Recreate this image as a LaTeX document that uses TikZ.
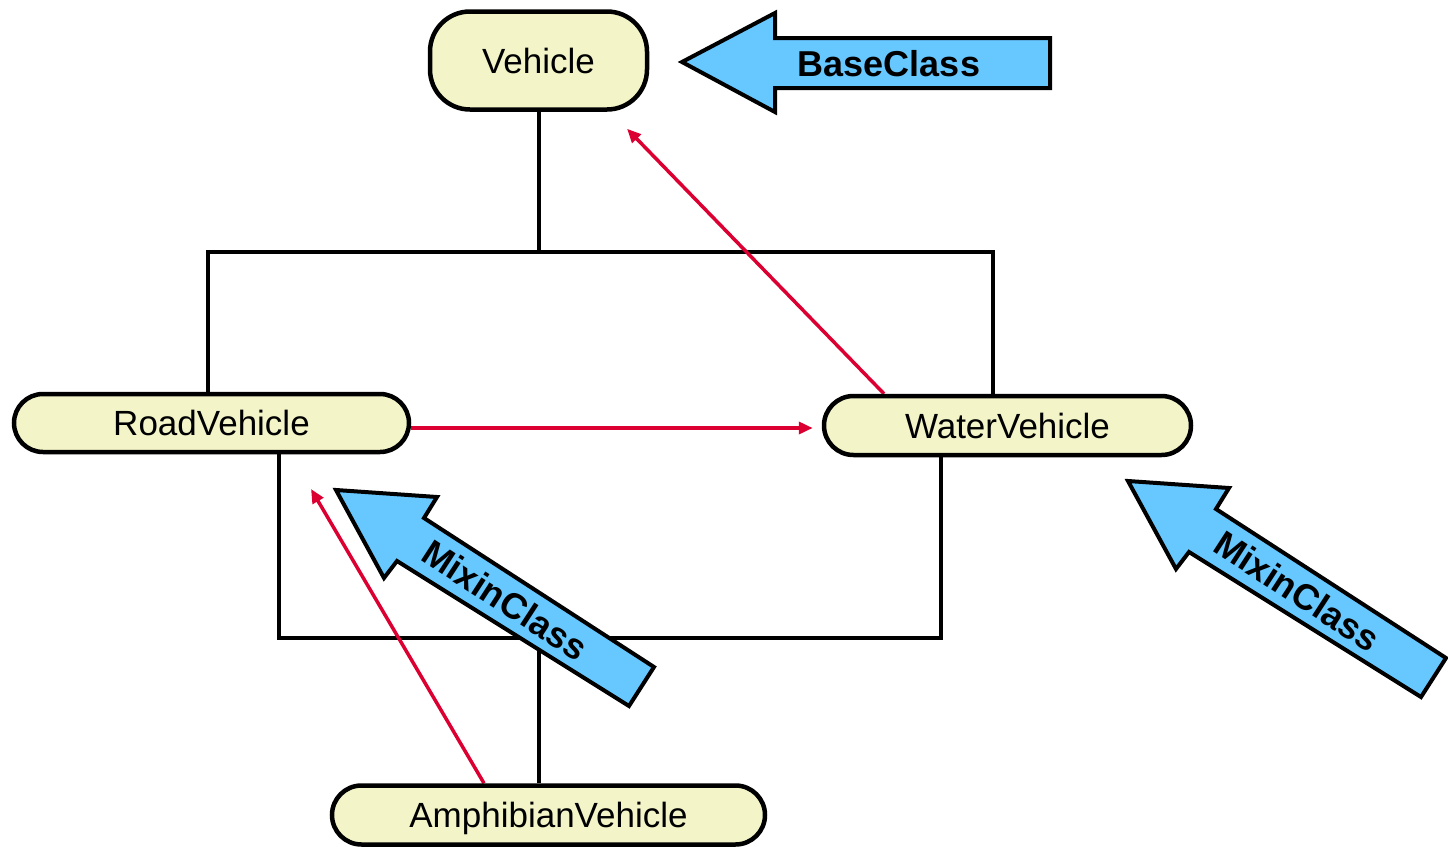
\documentclass[tikz,border=0pt]{standalone}
\usepackage{fontspec}
\setmainfont{Liberation Sans}
\usetikzlibrary{arrows.meta,backgrounds}
\definecolor{nodefill}{HTML}{F3F5C9}
\definecolor{relred}{HTML}{DC0032}
\definecolor{hintblue}{HTML}{66C8FF}
\tikzset{
  cls/.style={draw=black, line width=2.25pt, fill=nodefill, inner sep=0pt, text depth=0pt,
    font=\fontsize{17.5pt}{21pt}\selectfont},
  tree/.style={draw=black, line width=2pt},
  rel/.style={draw=relred, line width=1.75pt, -{Triangle[length=7pt,width=6pt]}},
  hint/.style={draw=black, line width=2pt, fill=hintblue},
  hinttext/.style={font=\fontsize{18pt}{21pt}\selectfont\bfseries, inner sep=0pt}
}
\begin{document}
\begin{tikzpicture}[x=0.5pt,y=-0.5pt]
\useasboundingbox (0,0) rectangle (1448,847);
% class nodes
\node[cls, minimum width=108.5pt, minimum height=49pt, rounded corners=20pt] (veh) at (538.5,60.5) {Vehicle};
\node[cls, minimum width=197.5pt, minimum height=29pt, rounded corners=14.5pt] (road) at (211.5,423) {RoadVehicle};
\node[cls, minimum width=183.5pt, minimum height=29.5pt, rounded corners=14.75pt] (water) at (1007.5,425.5) {WaterVehicle};
\node[cls, minimum width=216.5pt, minimum height=29.5pt, rounded corners=14.75pt] (amph) at (548.5,815) {AmphibianVehicle};
\coordinate (j1) at (538.5,252);
\coordinate (j2) at (539,638);
\coordinate (r2) at (311,489);
\begin{pgfonlayer}{background}
  % inheritance tree
  \draw[tree] (veh.south) -- (j1);
  \draw[tree] ([xshift=-1.75pt]road.north) |- (j1) -| ([xshift=-7.25pt]water.north);
  \draw[tree] ([xshift=33.75pt]road.south) |- (j2) -| ([xshift=-33.25pt]water.south);
  \draw[tree] (j2) -- ([xshift=-4.75pt]amph.north);
  % method resolution order
  \draw[rel] ([yshift=-2.5pt]road.east) -- ([xshift=-4.5pt,yshift=-1.25pt]water.west);
  \draw[rel] ([xshift=-61.75pt]water.north) -- ([xshift=44.25pt,yshift=-8.5pt]veh.south);
  \draw[rel] ([xshift=-32.25pt]amph.north) -- (r2);
\end{pgfonlayer}
% hint arrows
\draw[hint] (682,62) -- (775,13) -- (775,38) -- (1050,38) -- (1050,88) -- (775,88) -- (775,112) -- cycle;
\node[hinttext] (bc) at (889,64) {BaseClass};
\draw[hint] (336,490) -- (437,497) -- (424,518) -- (654,667) -- (629,706) -- (397,561) -- (384,578) -- cycle;
\node[hinttext, rotate=-33] (mc1) at (505,600) {MixinClass};
\begin{scope}[shift={(792,-9)}]
\draw[hint] (336,490) -- (437,497) -- (424,518) -- (654,667) -- (629,706) -- (397,561) -- (384,578) -- cycle;
\node[hinttext, rotate=-33] (mc2) at (505,600) {MixinClass};
\end{scope}
\end{tikzpicture}
\end{document}
